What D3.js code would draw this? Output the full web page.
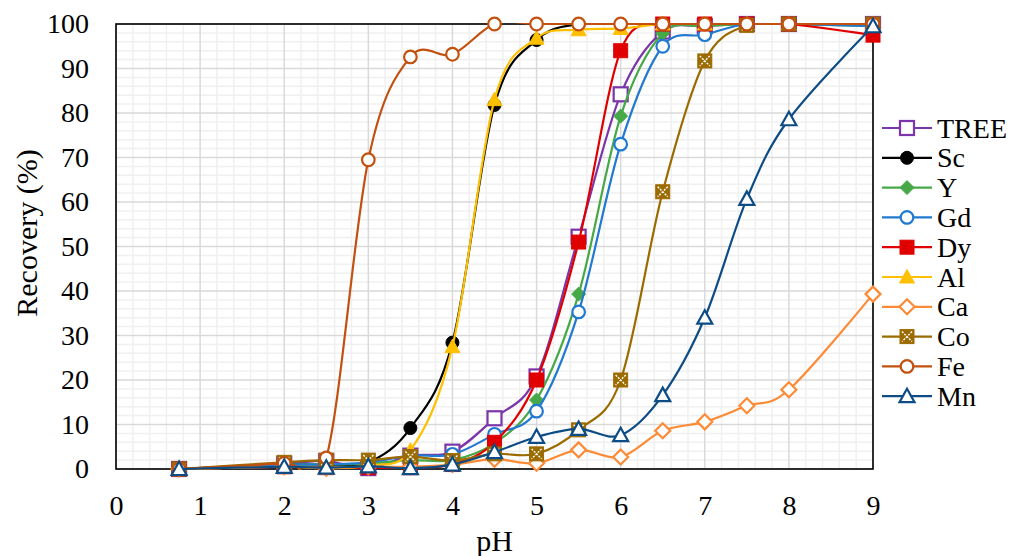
<!DOCTYPE html>
<html>
<head>
<meta charset="utf-8">
<script src="https://cdn.jsdelivr.net/npm/d3@7"></script>
<style>
  html, body { margin: 0; padding: 0; background: #fff; }
  svg { display: block; }
</style>
</head>
<body>
<div id="chart"></div>
<script>
// pH values (x) shared by every series
const pH = [0.75, 2, 2.5, 3, 3.5, 4, 4.5, 5, 5.5, 6, 6.5, 7, 7.5, 8, 9];

// recovery (%)
const TREE = [0, 1.2, 1.8, 0.2, 3, 3.9, 11.4, 20.8, 52.2, 84.2, 98.3, 99.5, 100, 100, 100];
const Sc   = [0, 1, 1, 1.5, 9.2, 28.4, 81.8, 96.4, 100, 100, 100, 100, 100, 100, 100];
const Y    = [0, 1, 1, 1.2, 2, 2, 5.8, 15.5, 39.3, 79.3, 97.9, 99.5, 100, 100, 99.5];
const Gd   = [0, 1, 1, 1.5, 3, 3.3, 7.8, 13, 35.3, 73, 95, 97.6, 100, 100, 99.5];
const Dy   = [0, 0.5, 0.3, 0.3, 0.3, 1, 6, 20, 51, 94, 100, 100, 100, 100, 97.5];
const Al   = [0, 0.5, 0.2, 0.8, 4.2, 27.5, 83, 96.8, 98.7, 99, 100, 100, 100, 100, 100];
const Ca   = [0, 0.5, 0.2, 0.5, 0.5, 1, 2.2, 1.3, 4.3, 2.7, 8.6, 10.6, 14.2, 17.8, 39.3];
const Co   = [0, 1.5, 2, 2, 2.8, 1.9, 3.4, 3.4, 8.8, 20, 62.3, 91.7, 99.7, 100, 100];
const Fe   = [0, 1.3, 2.5, 69.5, 92.6, 93.2, 100, 100, 100, 100, 100, 100, 100, 100, 100];
const Mn   = [0, 0.5, 0.3, 0.6, 0.2, 1, 3.8, 7.2, 9, 7.6, 16.6, 34, 60.7, 78.6, 99.5];

const seriesNames  = ["TREE", "Sc", "Y", "Gd", "Dy", "Al", "Ca", "Co", "Fe", "Mn"];
const seriesValues = [TREE, Sc, Y, Gd, Dy, Al, Ca, Co, Fe, Mn];
const seriesColors = ["#7B35AA", "#000000", "#46A846", "#2279D0", "#E00000",
                      "#FFC000", "#FD8A35", "#9C6B00", "#C2510F", "#0E4C85"];
const seriesMarkers = ["squareOpen", "circleFilled", "diamondFilled", "circleOpen", "squareFilled",
                       "triangleFilled", "diamondOpen", "squareX", "circleOpen", "triangleOpen"];

const xTicks = [0, 1, 2, 3, 4, 5, 6, 7, 8, 9];
const yTicks = [0, 10, 20, 30, 40, 50, 60, 70, 80, 90, 100];

const FONT = "Liberation Serif";
const width = 1025, height = 556;
const plotLeft = 116, plotRight = 873, plotTop = 24, plotBottom = 469;

const svg = d3.select("#chart").append("svg")
    .attr("width", width)
    .attr("height", height);

const x = d3.scaleLinear().domain([0, 9]).range([plotLeft, plotRight]);
const y = d3.scaleLinear().domain([0, 100]).range([plotBottom, plotTop]);

// grid: minor first, then major
const grid = svg.append("g");
const minorX = d3.range(0, 9.001, 0.2).filter(v => Math.abs(v - Math.round(v)) > 1e-6);
const minorY = d3.range(0, 100.001, 2).filter(v => v % 10 !== 0);
grid.selectAll(".mx").data(minorX).join("line")
    .attr("x1", d => x(d)).attr("x2", d => x(d))
    .attr("y1", plotTop).attr("y2", plotBottom)
    .attr("stroke", "#f0f0f0").attr("stroke-width", 1.5);
grid.selectAll(".my").data(minorY).join("line")
    .attr("x1", plotLeft).attr("x2", plotRight)
    .attr("y1", d => y(d)).attr("y2", d => y(d))
    .attr("stroke", "#f0f0f0").attr("stroke-width", 1.5);
grid.selectAll(".gx").data(xTicks).join("line")
    .attr("x1", d => x(d)).attr("x2", d => x(d))
    .attr("y1", plotTop).attr("y2", plotBottom)
    .attr("stroke", "#d9d9d9").attr("stroke-width", 1.5);
grid.selectAll(".gy").data(yTicks).join("line")
    .attr("x1", plotLeft).attr("x2", plotRight)
    .attr("y1", d => y(d)).attr("y2", d => y(d))
    .attr("stroke", "#d9d9d9").attr("stroke-width", 1.5);

// plot border
svg.append("rect")
    .attr("x", plotLeft).attr("y", plotTop)
    .attr("width", plotRight - plotLeft).attr("height", plotBottom - plotTop)
    .attr("fill", "none").attr("stroke", "#000").attr("stroke-width", 1.6);

// axes (labels only)
const xAxis = svg.append("g")
    .attr("transform", `translate(0,${plotBottom})`)
    .call(d3.axisBottom(x).tickValues(xTicks).tickSize(0).tickPadding(26).tickFormat(d3.format("d")));
const yAxis = svg.append("g")
    .attr("transform", `translate(${plotLeft},0)`)
    .call(d3.axisLeft(y).tickValues(yTicks).tickSize(0).tickPadding(27).tickFormat(d3.format("d")));
[xAxis, yAxis].forEach(a => {
  a.select(".domain").remove();
  a.selectAll("text")
      .attr("font-family", FONT)
      .attr("font-size", 28)
      .attr("fill", "#000");
});

svg.append("text")
    .attr("x", (plotLeft + plotRight) / 2).attr("y", 551)
    .attr("text-anchor", "middle")
    .attr("font-family", FONT)
    .attr("font-size", 30)
    .text("pH");
svg.append("text")
    .attr("transform", `translate(37,${233}) rotate(-90)`)
    .attr("text-anchor", "middle")
    .attr("font-family", FONT)
    .attr("font-size", 30)
    .text("Recovery (%)");

// clip lines to the plot area
svg.append("clipPath").attr("id", "plotclip")
  .append("rect")
    .attr("x", plotLeft).attr("y", plotTop - 1)
    .attr("width", plotRight - plotLeft).attr("height", plotBottom - plotTop + 2);

function drawMarker(g, type, color) {
  const s = 7;
  if (type === "squareOpen" || type === "squareFilled" || type === "squareX") {
    g.append("rect")
        .attr("x", -s).attr("y", -s).attr("width", 2 * s).attr("height", 2 * s)
        .attr("fill", type === "squareOpen" ? "#fff" : color)
        .attr("stroke", color).attr("stroke-width", type === "squareOpen" ? 2.2 : 1);
    if (type === "squareX") {
      g.append("path")
          .attr("d", `M${-s + 2},${-s + 2}L${s - 2},${s - 2}M${s - 2},${-s + 2}L${-s + 2},${s - 2}`)
          .attr("stroke", "#fff").attr("stroke-width", 1.4)
          .attr("stroke-dasharray", "2,1.3").attr("fill", "none");
    }
  } else if (type === "circleFilled" || type === "circleOpen") {
    g.append("circle")
        .attr("r", type === "circleOpen" ? 6.3 : 6.5)
        .attr("fill", type === "circleOpen" ? "#fff" : color)
        .attr("stroke", color).attr("stroke-width", type === "circleOpen" ? 2.2 : 1);
  } else if (type === "diamondFilled" || type === "diamondOpen") {
    const d = type === "diamondOpen" ? 7.5 : 7;
    g.append("path")
        .attr("d", `M0,${-d}L${d},0L0,${d}L${-d},0Z`)
        .attr("fill", type === "diamondOpen" ? "#fff" : color)
        .attr("stroke", color).attr("stroke-width", type === "diamondOpen" ? 2.2 : 1);
  } else if (type === "triangleFilled" || type === "triangleOpen") {
    const t = 7.5;
    g.append("path")
        .attr("d", `M0,${-t}L${t},${t * 0.8}L${-t},${t * 0.8}Z`)
        .attr("fill", type === "triangleOpen" ? "#fff" : color)
        .attr("stroke", color).attr("stroke-width", type === "triangleOpen" ? 2.2 : 1)
        .attr("stroke-linejoin", "miter");
  }
}

const line = d3.line()
    .x((d, i) => x(pH[i]))
    .y(d => y(d))
    .curve(d3.curveCardinal.tension(0));

seriesValues.forEach((vals, k) => {
  const g = svg.append("g").attr("class", "series");
  g.append("path")
      .datum(vals)
      .attr("d", line)
      .attr("clip-path", "url(#plotclip)")
      .attr("fill", "none")
      .attr("stroke", seriesColors[k])
      .attr("stroke-width", 2.2);
  vals.forEach((v, i) => {
    const m = g.append("g").attr("transform", `translate(${x(pH[i])},${y(v)})`);
    drawMarker(m, seriesMarkers[k], seriesColors[k]);
  });
});

// legend
const legend = svg.append("g");
seriesNames.forEach((name, k) => {
  const ly = 128 + k * 29.8;
  const row = legend.append("g").attr("transform", `translate(0,${ly})`);
  row.append("line")
      .attr("x1", 882).attr("x2", 932)
      .attr("stroke", seriesColors[k]).attr("stroke-width", 2.2);
  const m = row.append("g").attr("transform", "translate(907,0)");
  drawMarker(m, seriesMarkers[k], seriesColors[k]);
  row.append("text")
      .attr("x", 937).attr("y", 0).attr("dy", "0.34em")
      .attr("font-family", FONT)
      .attr("font-size", 28)
      .text(name);
});
</script>
</body>
</html>
